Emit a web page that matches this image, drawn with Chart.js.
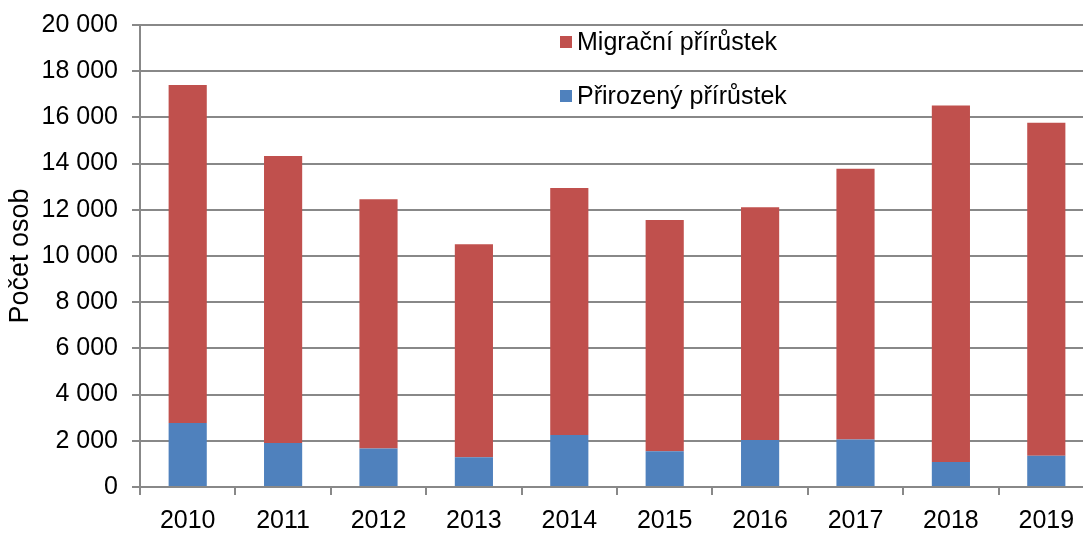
<!DOCTYPE html>
<html lang="cs">
<head>
<meta charset="utf-8">
<title>Přírůstek obyvatel 2010–2019</title>
<script src="https://cdn.jsdelivr.net/npm/chart.js@4/dist/chart.umd.min.js"></script>
<style>
  html, body { margin: 0; padding: 0; background: #fff; overflow: hidden; }
  #wrap { width: 1100px; height: 533px; }
</style>
</head>
<body>
<div id="wrap"><canvas id="chart"></canvas></div>
<script>
// Data
const years = ['2010', '2011', '2012', '2013', '2014', '2015', '2016', '2017', '2018', '2019'];
const natural = [2770, 1900, 1670, 1290, 2250, 1550, 2030, 2060, 1080, 1350];
const migration = [14630, 12430, 10790, 9220, 10690, 10010, 10080, 11720, 15430, 14420];
const yTicks = [0, 2000, 4000, 6000, 8000, 10000, 12000, 14000, 16000, 18000, 20000];

const labelFont = { family: 'Liberation Sans, Arial, sans-serif', size: 25 };
const gridColor = '#888888';

// legend drawn inside the plot, two rows, red first
const innerLegend = {
  id: 'innerLegend',
  afterDraw(chart) {
    const ctx = chart.ctx;
    const area = chart.chartArea;
    const items = [chart.data.datasets[1], chart.data.datasets[0]];
    ctx.save();
    ctx.font = '25px Liberation Sans, Arial, sans-serif';
    ctx.textBaseline = 'middle';
    items.forEach(function (ds, i) {
      const x = area.left + 420;
      const y = area.top + 17 + i * 54;
      ctx.fillStyle = ds.backgroundColor;
      ctx.fillRect(x, y - 6, 12, 12);
      ctx.fillStyle = '#000';
      ctx.fillText(ds.label, x + 17, y + 1);
    });
    ctx.restore();
  }
};

const ctx = document.getElementById('chart').getContext('2d');
new Chart(ctx, {
  type: 'bar',
  data: {
    labels: years,
    datasets: [
      {
        label: 'Přirozený přírůstek',
        data: natural,
        backgroundColor: '#4F81BD',
        categoryPercentage: 1,
        barPercentage: 0.4
      },
      {
        label: 'Migrační přírůstek',
        data: migration,
        backgroundColor: '#C0504D',
        categoryPercentage: 1,
        barPercentage: 0.4
      }
    ]
  },
  options: {
    responsive: true,
    maintainAspectRatio: false,
    animation: false,
    layout: { padding: { top: 25, right: 6, left: 0, bottom: 0 } },
    plugins: {
      legend: { display: false },
      tooltip: { enabled: false }
    },
    scales: {
      x: {
        stacked: true,
        grid: { drawOnChartArea: false, offset: true, tickLength: 8, color: gridColor, lineWidth: 2 },
        border: { color: gridColor, width: 2 },
        ticks: { color: '#000', font: labelFont, padding: 11, maxRotation: 0 },
        afterFit: function (scale) { scale.height = 46; }
      },
      y: {
        stacked: true,
        min: 0,
        max: 20000,
        grid: { color: gridColor, lineWidth: 2, tickLength: 8 },
        border: { color: gridColor, width: 2 },
        afterBuildTicks: function (scale) {
          scale.ticks = yTicks.map(function (v) { return { value: v }; });
        },
        ticks: {
          color: '#000',
          font: labelFont,
          padding: 14,
          callback: function (v) {
            return String(v).replace(/\B(?=(\d{3})+(?!\d))/g, ' ');
          }
        },
        title: {
          display: true,
          text: 'Počet osob',
          color: '#000',
          font: { family: 'Liberation Sans, Arial, sans-serif', size: 27 },
          padding: { top: 4, bottom: 0 }
        },
        afterFit: function (scale) {
          scale.width = 140;
          scale.paddingTop = 0;
          scale.paddingBottom = 0;
        }
      }
    }
  },
  plugins: [innerLegend]
});
</script>
</body>
</html>
